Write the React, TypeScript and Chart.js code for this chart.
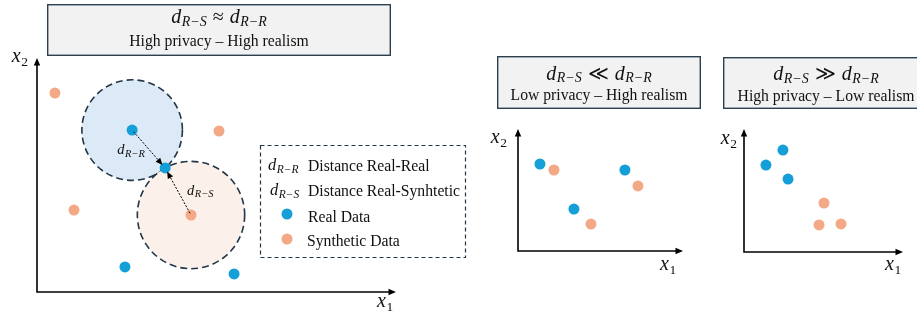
import React, { useEffect, useRef } from "react";
import { Chart, registerables } from "chart.js";
Chart.register(...registerables);

const BLUE = "#149fd8";
const ORANGE = "#f3a886";
const BLUE_FILL = "#dce9f6";
const ORANGE_FILL = "#fcf0ea";
const DARK = "#233646";
const SERIF = '"Liberation Serif", "DejaVu Serif", serif';

// Panel 1: d_RS ≈ d_RR
const mainReal: number[][] = [[2.65, 6.92], [3.57, 5.3], [2.45, 1.07], [5.49, 0.77]];
const mainSynthetic: number[][] = [[0.5, 8.5], [5.07, 6.88], [1.03, 3.5], [4.29, 3.29]];
// Panel 2: d_RS << d_RR
const lowPrivacyReal: number[][] = [[1.33, 7.13], [6.48, 6.64], [3.39, 3.44]];
const lowPrivacySynthetic: number[][] = [[2.18, 6.64], [7.27, 5.33], [4.42, 2.21]];
// Panel 3: d_RS >> d_RR
const lowRealismReal: number[][] = [[1.38, 7.07], [2.45, 8.29], [2.77, 5.93]];
const lowRealismSynthetic: number[][] = [[5.03, 3.98], [4.72, 2.2], [6.1, 2.28]];

const titleRelations = ["≈", "≪", "≫"];
const titleCaptions = [
  "High privacy – High realism",
  "Low privacy – High realism",
  "High privacy – Low realism",
];
const legendLabels = ["Distance Real-Real", "Distance Real-Synhtetic", "Real Data", "Synthetic Data"];
const distanceSubs = ["R−R", "R−S"];
const axisNames = [["x", "1"], ["x", "2"]];

type Tok = { b: string; s?: string; it?: boolean; sit?: boolean; pad?: number };

function font(size: number, italic: boolean) {
  return `${italic ? "italic " : ""}${size}px ${SERIF}`;
}

function mathWidth(ctx: CanvasRenderingContext2D, toks: Tok[], size: number, sub: number) {
  let w = 0;
  for (const t of toks) {
    w += (t.pad || 0) * 2;
    ctx.font = font(size, !!t.it);
    w += ctx.measureText(t.b).width;
    if (t.s) {
      ctx.font = font(sub, t.sit !== false);
      w += ctx.measureText(t.s).width + 0.5;
    }
  }
  return w;
}

function drawMath(
  ctx: CanvasRenderingContext2D,
  toks: Tok[],
  x: number,
  y: number,
  size: number,
  sub: number,
  drop: number,
  align: "left" | "center" | "right"
) {
  const w = mathWidth(ctx, toks, size, sub);
  let cx = align === "left" ? x : align === "center" ? x - w / 2 : x - w;
  ctx.textAlign = "left";
  ctx.textBaseline = "alphabetic";
  ctx.fillStyle = "#111";
  for (const t of toks) {
    cx += t.pad || 0;
    ctx.font = font(size, !!t.it);
    ctx.fillText(t.b, cx, y);
    cx += ctx.measureText(t.b).width;
    if (t.s) {
      cx += 0.5;
      ctx.font = font(sub, t.sit !== false);
      ctx.fillText(t.s, cx, y + drop);
      cx += ctx.measureText(t.s).width;
    }
    cx += t.pad || 0;
  }
}

function distTok(sub: string): Tok[] {
  return [{ b: "d", s: sub, it: true }];
}

type PanelCfg = {
  left: number;
  width: number;
  pad: { left: number; right: number; top: number; bottom: number };
  real: number[][];
  synthetic: number[][];
  box: { x: number; y: number; w: number; h: number; b1: number; b2: number };
  relation: string;
  caption: string;
  x2: { dx: number; dy: number };
  x1: { dx: number; dy: number };
  circles?: { center: [number, number]; through: [number, number]; fill: string; label: string; ldx: number; ldy: number }[];
  legend?: boolean;
};

function makePlugin(cfg: PanelCfg) {
  const px = (chart: any, ds: number, i: number) => {
    const el = chart.getDatasetMeta(ds).data[i];
    return { x: el.x, y: el.y };
  };
  return {
    id: "diagram",
    beforeDatasetsDraw(chart: any) {
      const ctx: CanvasRenderingContext2D = chart.ctx;
      const a = chart.chartArea;
      ctx.save();
      // title box
      const b = cfg.box;
      ctx.fillStyle = "#f2f2f2";
      ctx.fillRect(b.x, b.y, b.w, b.h);
      ctx.strokeStyle = "#2c4052";
      ctx.lineWidth = 1.4;
      ctx.strokeRect(b.x + 0.7, b.y + 0.7, b.w - 1.4, b.h - 1.4);
      const cx = b.x + b.w / 2;
      drawMath(
        ctx,
        [{ b: "d", s: "R−S", it: true }, { b: cfg.relation, pad: 6 }, { b: "d", s: "R−R", it: true }],
        cx,
        b.y + b.b1,
        20,
        14,
        2.5,
        "center"
      );
      ctx.font = font(15.7, false);
      ctx.textAlign = "center";
      ctx.fillStyle = "#111";
      ctx.fillText(cfg.caption, cx, b.y + b.b2);

      // axes
      ctx.strokeStyle = "#000";
      ctx.fillStyle = "#000";
      ctx.lineWidth = 1.6;
      ctx.beginPath();
      ctx.moveTo(a.left, a.top + 5);
      ctx.lineTo(a.left, a.bottom);
      ctx.lineTo(a.right - 5, a.bottom);
      ctx.stroke();
      ctx.beginPath();
      ctx.moveTo(a.left, a.top);
      ctx.lineTo(a.left - 3.2, a.top + 7.5);
      ctx.lineTo(a.left + 3.2, a.top + 7.5);
      ctx.closePath();
      ctx.fill();
      ctx.beginPath();
      ctx.moveTo(a.right, a.bottom);
      ctx.lineTo(a.right - 7.5, a.bottom - 3.2);
      ctx.lineTo(a.right - 7.5, a.bottom + 3.2);
      ctx.closePath();
      ctx.fill();
      // axis labels
      drawMath(ctx, [{ b: axisNames[1][0], s: axisNames[1][1], it: true, sit: false }], a.left - cfg.x2.dx, a.top + cfg.x2.dy, 20, 13.5, 4, "right");
      drawMath(ctx, [{ b: axisNames[0][0], s: axisNames[0][1], it: true, sit: false }], a.right - cfg.x1.dx, a.bottom + cfg.x1.dy, 20, 13.5, 4, "left");

      // circles
      for (const c of cfg.circles || []) {
        const p = px(chart, c.center[0], c.center[1]);
        const q = px(chart, c.through[0], c.through[1]);
        const r = Math.hypot(q.x - p.x, q.y - p.y);
        ctx.beginPath();
        ctx.arc(p.x, p.y, r, 0, Math.PI * 2);
        ctx.fillStyle = c.fill;
        ctx.fill();
        ctx.setLineDash([7, 4]);
        ctx.lineWidth = 1.6;
        ctx.strokeStyle = DARK;
        ctx.stroke();
        ctx.setLineDash([]);
      }
      for (const c of cfg.circles || []) {
        const p = px(chart, c.center[0], c.center[1]);
        const q = px(chart, c.through[0], c.through[1]);
        drawMath(ctx, distTok(c.label), (p.x + q.x) / 2 + c.ldx, (p.y + q.y) / 2 + c.ldy, 14.5, 10.5, 2.5, "left");
      }

      // legend
      if (cfg.legend) {
        ctx.setLineDash([4, 3]);
        ctx.lineWidth = 1.2;
        ctx.strokeStyle = DARK;
        ctx.strokeRect(260.5, 145.5, 205, 112);
        ctx.setLineDash([]);
        drawMath(ctx, distTok(distanceSubs[0]), 268, 170, 16.5, 11.5, 2.5, "left");
        drawMath(ctx, distTok(distanceSubs[1]), 270, 195, 16.5, 11.5, 2.5, "left");
        ctx.font = font(15.7, false);
        ctx.textAlign = "left";
        ctx.fillStyle = "#111";
        ctx.fillText(legendLabels[0], 308, 171);
        ctx.fillText(legendLabels[1], 308, 196);
        ctx.fillText(legendLabels[2], 308, 222);
        ctx.fillText(legendLabels[3], 307, 246);
        ctx.fillStyle = BLUE;
        ctx.beginPath();
        ctx.arc(287, 214, 5.5, 0, Math.PI * 2);
        ctx.fill();
        ctx.fillStyle = ORANGE;
        ctx.beginPath();
        ctx.arc(287, 239, 5.5, 0, Math.PI * 2);
        ctx.fill();
      }
      ctx.restore();
    },
    afterDatasetsDraw(chart: any) {
      const ctx: CanvasRenderingContext2D = chart.ctx;
      ctx.save();
      for (const c of cfg.circles || []) {
        const p = px(chart, c.center[0], c.center[1]);
        const q = px(chart, c.through[0], c.through[1]);
        const d = Math.hypot(q.x - p.x, q.y - p.y);
        const ux = (q.x - p.x) / d;
        const uy = (q.y - p.y) / d;
        const ex = q.x - ux * 4;
        const ey = q.y - uy * 4;
        ctx.strokeStyle = "#000";
        ctx.lineWidth = 1;
        ctx.setLineDash([2, 1.5]);
        ctx.beginPath();
        ctx.moveTo(p.x + ux * 2, p.y + uy * 2);
        ctx.lineTo(ex - ux * 5, ey - uy * 5);
        ctx.stroke();
        ctx.setLineDash([]);
        ctx.fillStyle = "#000";
        ctx.beginPath();
        ctx.moveTo(ex, ey);
        ctx.lineTo(ex - ux * 7 - uy * 3, ey - uy * 7 + ux * 3);
        ctx.lineTo(ex - ux * 7 + uy * 3, ey - uy * 7 - ux * 3);
        ctx.closePath();
        ctx.fill();
      }
      ctx.restore();
    },
  };
}

const panels: PanelCfg[] = [
  {
    left: 0,
    width: 470,
    pad: { left: 37, right: 74, top: 58, bottom: 26 },
    real: mainReal,
    synthetic: mainSynthetic,
    box: { x: 47, y: 4, w: 344, h: 52, b1: 19, b2: 41.7 },
    relation: titleRelations[0],
    caption: titleCaptions[0],
    x2: { dx: 9, dy: 4 },
    x1: { dx: 19, dy: 15 },
    circles: [
      { center: [0, 0], through: [0, 1], fill: BLUE_FILL, label: distanceSubs[0], ldx: -31.5, ldy: 5 },
      { center: [1, 3], through: [0, 1], fill: ORANGE_FILL, label: distanceSubs[1], ldx: 9, ldy: 3.5 },
    ],
    legend: true,
  },
  {
    left: 470,
    width: 235,
    pad: { left: 48, right: 22, top: 129, bottom: 67 },
    real: lowPrivacyReal,
    synthetic: lowPrivacySynthetic,
    box: { x: 27, y: 56, w: 204, h: 53, b1: 23.6, b2: 44.3 },
    relation: titleRelations[1],
    caption: titleCaptions[1],
    x2: { dx: 11, dy: 14 },
    x1: { dx: 23, dy: 19 },
  },
  {
    left: 705,
    width: 212,
    pad: { left: 39, right: 14, top: 129, bottom: 66 },
    real: lowRealismReal,
    synthetic: lowRealismSynthetic,
    box: { x: 18, y: 57, w: 206, h: 52, b1: 23, b2: 43.5 },
    relation: titleRelations[2],
    caption: titleCaptions[2],
    x2: { dx: 7, dy: 15 },
    x1: { dx: 18, dy: 18 },
  },
];

function Panel({ cfg }: { cfg: PanelCfg }) {
  const ref = useRef<HTMLCanvasElement>(null);
  useEffect(() => {
    if (!ref.current) return;
    const pointStyle = (color: string) => ({
      backgroundColor: color,
      borderWidth: 0,
      pointRadius: 5.5,
      pointHoverRadius: 5.5,
    });
    const chart = new Chart(ref.current, {
      type: "scatter",
      data: {
        datasets: [
          { label: "Real Data", data: cfg.real.map(([x, y]) => ({ x, y })), ...pointStyle(BLUE), clip: false } as any,
          { label: "Synthetic Data", data: cfg.synthetic.map(([x, y]) => ({ x, y })), ...pointStyle(ORANGE), clip: false } as any,
        ],
      },
      options: {
        responsive: false,
        animation: false,
        events: [],
        layout: { padding: cfg.pad },
        scales: {
          x: { type: "linear", min: 0, max: 10, display: false },
          y: { type: "linear", min: 0, max: 10, display: false },
        },
        plugins: { legend: { display: false }, tooltip: { enabled: false }, title: { display: false } },
      },
      plugins: [makePlugin(cfg) as any],
    });
    return () => chart.destroy();
  }, [cfg]);
  return (
    <canvas
      ref={ref}
      width={cfg.width}
      height={318}
      style={{ position: "absolute", left: cfg.left, top: 0, width: cfg.width, height: 318 }}
    />
  );
}

export default function App() {
  return (
    <div
      style={{
        position: "absolute",
        left: 0,
        top: 0,
        width: 917,
        height: 318,
        overflow: "hidden",
        background: "#fff",
      }}
    >
      {panels.map((p, i) => (
        <Panel key={i} cfg={p} />
      ))}
    </div>
  );
}
